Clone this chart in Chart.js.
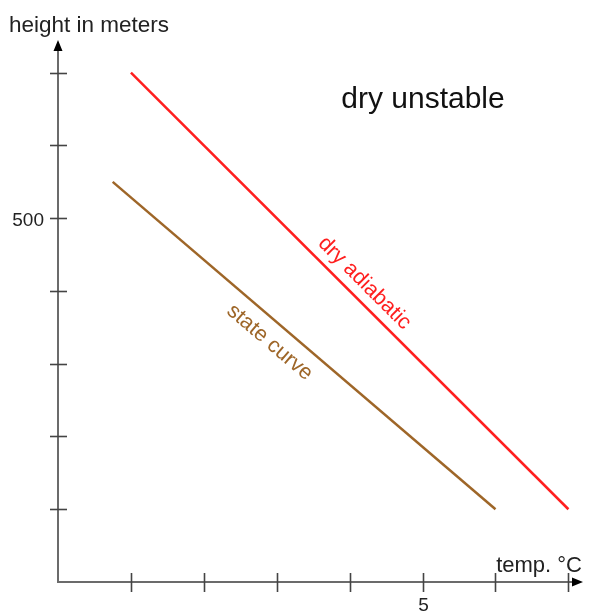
<!DOCTYPE html>
<html>
<head>
<meta charset="utf-8">
<script src="https://cdn.jsdelivr.net/npm/chart.js@4/dist/chart.umd.min.js"></script>
<style>
  html, body { margin: 0; padding: 0; background: #fff; }
  #wrap { width: 589px; height: 612px; }
</style>
</head>
<body>
<div id="wrap"><canvas id="chart" width="589" height="612"></canvas></div>
<script>
// temperature (°C) / height (m) pairs
const dryAdiabaticX = [1, 7];
const dryAdiabaticY = [700, 100];
const stateCurveX = [0.75, 6];
const stateCurveY = [550, 100];

const xTicks = [1, 2, 3, 4, 5, 6, 7];
const xTickLabels = ["", "", "", "", "5", "", ""];
const yTicks = [100, 200, 300, 400, 500, 600, 700];
const yTickLabels = ["", "", "", "", "500", "", ""];

const AXIS = "#6b6b6b";
const RED = "#ff1f1f";
const BROWN = "#9e6628";
const FONT = "'Liberation Sans', Arial, sans-serif";

function pts(xs, ys){
  return xs.map((x, i) => ({ x, y: ys[i] }));
}

// draws the arrowed axes, tick marks and text labels
const axesPlugin = {
  id: "axes",
  beforeDatasetsDraw(chart){
    const { ctx, chartArea: a, scales: { x, y } } = chart;
    const x0 = x.getPixelForValue(0), y0 = y.getPixelForValue(0);
    ctx.save();
    ctx.strokeStyle = AXIS;
    ctx.fillStyle = "#000";
    ctx.lineWidth = 2;
    ctx.beginPath();
    ctx.moveTo(x0, y0);
    ctx.lineTo(x0, a.top + 8);
    ctx.moveTo(x0 - 1, y0);
    ctx.lineTo(a.right - 8, y0);
    ctx.stroke();

    // arrow heads
    ctx.beginPath();
    ctx.moveTo(x0, a.top);
    ctx.lineTo(x0 - 4.5, a.top + 11);
    ctx.lineTo(x0 + 4.5, a.top + 11);
    ctx.closePath();
    ctx.moveTo(a.right, y0);
    ctx.lineTo(a.right - 11, y0 - 4.5);
    ctx.lineTo(a.right - 11, y0 + 4.5);
    ctx.closePath();
    ctx.fill();

    ctx.strokeStyle = "#444";
    ctx.lineWidth = 1.6;
    ctx.font = `19px ${FONT}`;
    ctx.fillStyle = "#222";
    ctx.textBaseline = "alphabetic";
    xTicks.forEach((t, i) => {
      const px = Math.round(x.getPixelForValue(t)) + 0.5;
      ctx.beginPath();
      ctx.moveTo(px, y0 - 9);
      ctx.lineTo(px, y0 + 10);
      ctx.stroke();
      if (xTickLabels[i]) {
        ctx.textAlign = "center";
        ctx.fillText(xTickLabels[i], px, y0 + 29);
      }
    });
    yTicks.forEach((t, i) => {
      const py = Math.round(y.getPixelForValue(t)) + 0.5;
      ctx.beginPath();
      ctx.moveTo(x0 - 8, py);
      ctx.lineTo(x0 + 9, py);
      ctx.stroke();
      if (yTickLabels[i]) {
        ctx.textAlign = "right";
        ctx.fillText(yTickLabels[i], x0 - 14, py + 7);
      }
    });

    ctx.font = `22.5px ${FONT}`;
    ctx.textAlign = "left";
    ctx.fillText("height in meters", 9, 32);
    ctx.font = `22px ${FONT}`;
    ctx.textAlign = "right";
    ctx.fillText("temp. °C", 582, 572);
    ctx.font = `30px ${FONT}`;
    ctx.textAlign = "center";
    ctx.fillStyle = "#111";
    ctx.fillText("dry unstable", 423, 108);
    ctx.restore();
  },
  afterDatasetsDraw(chart){
    const { ctx, scales: { x, y } } = chart;
    const lineLabel = (xs, ys, f, text, color, off) => {
      const ax = x.getPixelForValue(xs[0]), ay = y.getPixelForValue(ys[0]);
      const bx = x.getPixelForValue(xs[1]), by = y.getPixelForValue(ys[1]);
      const ang = Math.atan2(by - ay, bx - ax);
      const px = ax + (bx - ax) * f, py = ay + (by - ay) * f;
      ctx.save();
      ctx.translate(px, py);
      ctx.rotate(ang);
      ctx.font = `21.5px ${FONT}`;
      ctx.fillStyle = color;
      ctx.textAlign = "center";
      ctx.textBaseline = "middle";
      ctx.fillText(text, 0, off);
      ctx.restore();
    };
    lineLabel(dryAdiabaticX, dryAdiabaticY, 0.508, "dry adiabatic", RED, -16);
    lineLabel(stateCurveX, stateCurveY, 0.444, "state curve", BROWN, 20);
  }
};

new Chart(document.getElementById("chart"), {
  type: "scatter",
  data: {
    datasets: [
      {
        label: "dry adiabatic",
        data: pts(dryAdiabaticX, dryAdiabaticY),
        showLine: true,
        borderColor: RED,
        borderWidth: 2.5,
        pointRadius: 0
      },
      {
        label: "state curve",
        data: pts(stateCurveX, stateCurveY),
        showLine: true,
        borderColor: BROWN,
        borderWidth: 2.5,
        pointRadius: 0
      }
    ]
  },
  options: {
    responsive: false,
    animation: false,
    layout: { padding: { left: 58, right: 6, top: 40, bottom: 30 } },
    plugins: { legend: { display: false }, tooltip: { enabled: false } },
    scales: {
      x: { type: "linear", min: 0, max: 7.2, display: false },
      y: { type: "linear", min: 0, max: 745, display: false }
    }
  },
  plugins: [axesPlugin]
});
</script>
</body>
</html>
